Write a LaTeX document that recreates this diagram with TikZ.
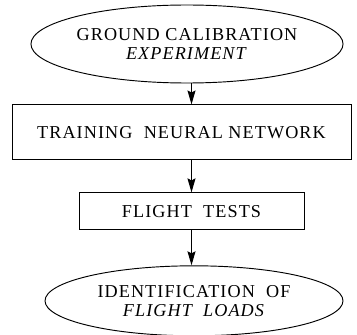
\documentclass[tikz,border=0pt]{standalone}
\usepackage{fontspec}
\setmainfont{Liberation Serif}[LetterSpace=6]
\usetikzlibrary{positioning,shapes.geometric,arrows.meta}
\tikzset{block/.style={draw,line width=0.8pt,align=center,inner sep=0pt,font=\fontsize{15.5}{16.2}\selectfont},
         oval/.style={draw,ellipse,line width=0.8pt,align=center,inner sep=0pt,font=\fontsize{15.5}{16.2}\selectfont}
}
\tikzstyle{arrow} = [line width=1pt,-{Stealth[length=4.2mm,width=2.4mm,inset=0.6mm]}]

\begin{document}
\begin{tikzpicture}
\useasboundingbox (0,0) rectangle (10.71,-10.05);

\node[oval,minimum width=9cm,minimum height=2.34cm] (ground) at (5.61,-1.32) {GROUND CALIBRATION\\\textit{EXPERIMENT}};
\node[block,minimum width=10.17cm,minimum height=1.65cm,below=0.63cm of ground,xshift=-0.165cm] (training) {TRAINING\ \ NEURAL NETWORK};
\node[block,minimum width=6.75cm,minimum height=1.11cm,below=0.96cm of training,xshift=0.3cm] (flight) {FLIGHT\ \ TESTS};
\node[oval,minimum width=8.94cm,minimum height=2.1cm,below=1.05cm of flight,xshift=0.075cm] (ident) {IDENTIFICATION\ \ OF\\\textit{FLIGHT\ \ LOADS}};
\draw[arrow] (ground.south -| flight.north)--(training.north -| flight.north);
\draw[arrow] (training.south -| flight.north)--(flight.north);
\draw[arrow] (flight.south)--(ident.north -| flight.south);

\end{tikzpicture}
\end{document}
